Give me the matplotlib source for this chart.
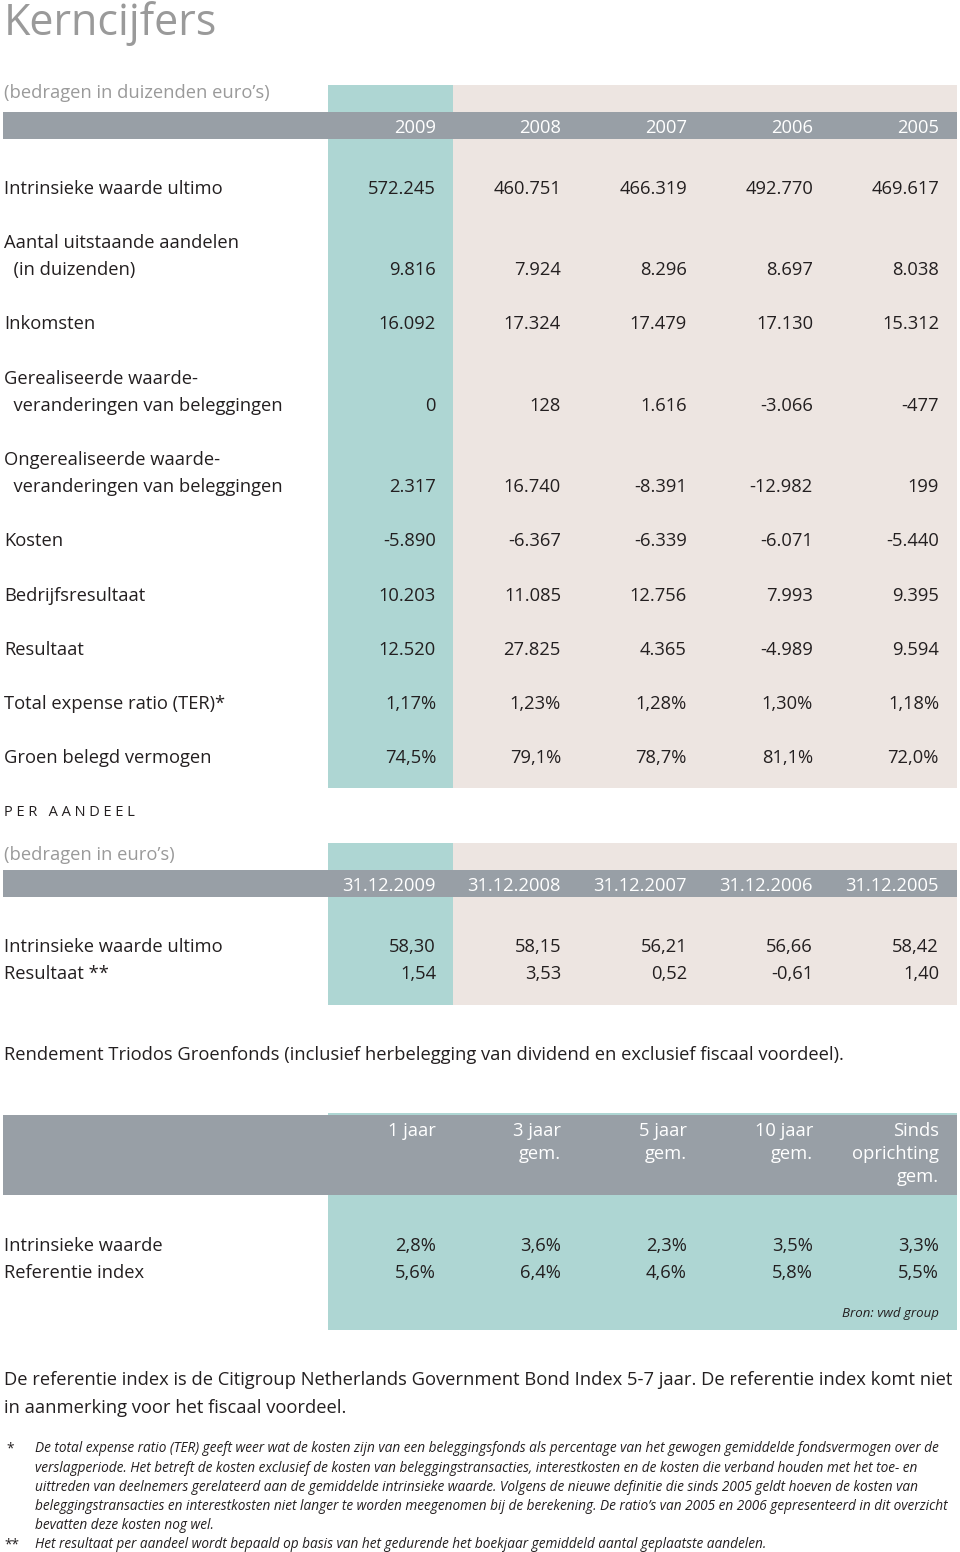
import matplotlib
matplotlib.use("Agg")
import matplotlib.pyplot as plt
from matplotlib.patches import Rectangle

plt.rcParams['font.family'] = ['Open Sans', 'DejaVu Sans']

# data
years = ['2009', '2008', '2007', '2006', '2005']
row_labels = [
    'Intrinsieke waarde ultimo',
    'Aantal uitstaande aandelen\n  (in duizenden)',
    'Inkomsten',
    'Gerealiseerde waarde-\n  veranderingen van beleggingen',
    'Ongerealiseerde waarde-\n  veranderingen van beleggingen',
    'Kosten',
    'Bedrijfsresultaat',
    'Resultaat',
    'Total expense ratio (TER)*',
    'Groen belegd vermogen',
]
intrinsieke = [572245, 460751, 466319, 492770, 469617]
aandelen = [9816, 7924, 8296, 8697, 8038]
inkomsten = [16092, 17324, 17479, 17130, 15312]
gerealiseerd = [0, 128, 1616, -3066, -477]
ongerealiseerd = [2317, 16740, -8391, -12982, 199]
kosten = [-5890, -6367, -6339, -6071, -5440]
bedrijfsresultaat = [10203, 11085, 12756, 7993, 9395]
resultaat = [12520, 27825, 4365, -4989, 9594]
ter = [1.17, 1.23, 1.28, 1.30, 1.18]
groen = [74.5, 79.1, 78.7, 81.1, 72.0]

dates = ['31.12.2009', '31.12.2008', '31.12.2007', '31.12.2006', '31.12.2005']
share_labels = ['Intrinsieke waarde ultimo', 'Resultaat **']
share_intrinsiek = [58.30, 58.15, 56.21, 56.66, 58.42]
share_resultaat = [1.54, 3.53, 0.52, -0.61, 1.40]

periods = ['1 jaar', '3 jaar\ngem.', '5 jaar\ngem.', '10 jaar\ngem.', 'Sinds\noprichting\ngem.']
rend_labels = ['Intrinsieke waarde', 'Referentie index']
rend_intrinsiek = [2.8, 3.6, 2.3, 3.5, 3.3]
rend_referentie = [5.6, 6.4, 4.6, 5.8, 5.5]


def thousands(v):
    s = f"{abs(v):,}".replace(',', '.')
    return ('-' if v < 0 else '') + s


def pct(v, d):
    return f"{v:.{d}f}".replace('.', ',') + '%'


def dec(v):
    return f"{v:.2f}".replace('.', ',')


table1 = [
    [thousands(v) for v in intrinsieke],
    [thousands(v) for v in aandelen],
    [thousands(v) for v in inkomsten],
    [thousands(v) for v in gerealiseerd],
    [thousands(v) for v in ongerealiseerd],
    [thousands(v) for v in kosten],
    [thousands(v) for v in bedrijfsresultaat],
    [thousands(v) for v in resultaat],
    [pct(v, 2) for v in ter],
    [pct(v, 1) for v in groen],
]

TEAL = '#aed6d3'
BEIGE = '#ede5e1'
BAR = '#989fa6'
INK = '#231f20'
GREY = '#9a9a9a'

fig = plt.figure(figsize=(9.6, 15.52), dpi=100)
ax = fig.add_axes([0, 0, 1, 1])
ax.set_xlim(0, 960)
ax.set_ylim(1552, 0)
ax.axis('off')

col_x = [436, 561, 687, 813, 939]
fs = 13.2
dy = 2  # small nudge so text centres sit like the reference


def box(x0, y0, x1, y1, c):
    ax.add_patch(Rectangle((x0, y0), x1 - x0, y1 - y0, color=c, lw=0))


def txt(x, y, s, **kw):
    kw.setdefault('fontsize', fs)
    kw.setdefault('color', INK)
    kw.setdefault('va', 'center')
    ax.text(x, y + dy, s, **kw)


txt(4, 22, 'Kerncijfers', fontsize=31, color=GREY)

# table 1
box(328, 85, 453, 788, TEAL)
box(453, 85, 957, 788, BEIGE)
box(3, 112, 957, 139, BAR)
txt(4, 91, '(bedragen in duizenden euro’s)', color=GREY)
for x, y in zip(col_x, years):
    txt(x, 126, y, color='white', ha='right')

row_y = [187, 268, 322, 404, 485, 539, 594, 648, 702, 756]
for lab, y, vals in zip(row_labels, row_y, table1):
    lines = lab.split('\n')
    for k, ln in enumerate(lines):
        txt(4, y - 27 * (len(lines) - 1 - k), ln)
    for x, v in zip(col_x, vals):
        txt(x, y, v, ha='right')

# per aandeel
txt(4, 811, 'P E R   A A N D E E L', fontsize=10.5)
box(328, 843, 453, 1005, TEAL)
box(453, 843, 957, 1005, BEIGE)
box(3, 870, 957, 897, BAR)
txt(4, 853, '(bedragen in euro’s)', color=GREY)
for x, d in zip(col_x, dates):
    txt(x, 884, d, color='white', ha='right')
for lab, y, vals in zip(share_labels, [945, 972], [share_intrinsiek, share_resultaat]):
    txt(4, y, lab)
    for x, v in zip(col_x, vals):
        txt(x, y, dec(v), ha='right')

# rendement
txt(4, 1053, 'Rendement Triodos Groenfonds (inclusief herbelegging van dividend en exclusief fiscaal voordeel).')
box(328, 1113, 957, 1330, TEAL)
box(3, 1115, 957, 1195, BAR)
for x, p in zip(col_x, periods):
    for k, ln in enumerate(p.split('\n')):
        txt(x, 1129 + 23 * k, ln, color='white', ha='right')
for lab, y, vals in zip(rend_labels, [1244, 1271], [rend_intrinsiek, rend_referentie]):
    txt(4, y, lab)
    for x, v in zip(col_x, vals):
        txt(x, y, pct(v, 1), ha='right')
txt(939, 1312, 'Bron: vwd group', fontsize=9.5, ha='right', style='italic')

txt(4, 1378, 'De referentie index is de Citigroup Netherlands Government Bond Index 5-7 jaar. De referentie index komt niet')
txt(4, 1406, 'in aanmerking voor het fiscaal voordeel.')

notes = [
    'De total expense ratio (TER) geeft weer wat de kosten zijn van een beleggingsfonds als percentage van het gewogen gemiddelde fondsvermogen over de',
    'verslagperiode. Het betreft de kosten exclusief de kosten van beleggingstransacties, interestkosten en de kosten die verband houden met het toe- en',
    'uittreden van deelnemers gerelateerd aan de gemiddelde intrinsieke waarde. Volgens de nieuwe definitie die sinds 2005 geldt hoeven de kosten van',
    'beleggingstransacties en interestkosten niet langer te worden meegenomen bij de berekening. De ratio’s van 2005 en 2006 gepresenteerd in dit overzicht',
    'bevatten deze kosten nog wel.',
]
nfs = 9.8
txt(6, 1447, '*', fontsize=nfs)
for k, ln in enumerate(notes):
    txt(35, 1447 + 19.2 * k, ln, fontsize=nfs, style='italic')
txt(4, 1543, '**', fontsize=nfs)
txt(35, 1543, 'Het resultaat per aandeel wordt bepaald op basis van het gedurende het boekjaar gemiddeld aantal geplaatste aandelen.',
    fontsize=nfs, style='italic')

fig.savefig('out.png', dpi=100)
